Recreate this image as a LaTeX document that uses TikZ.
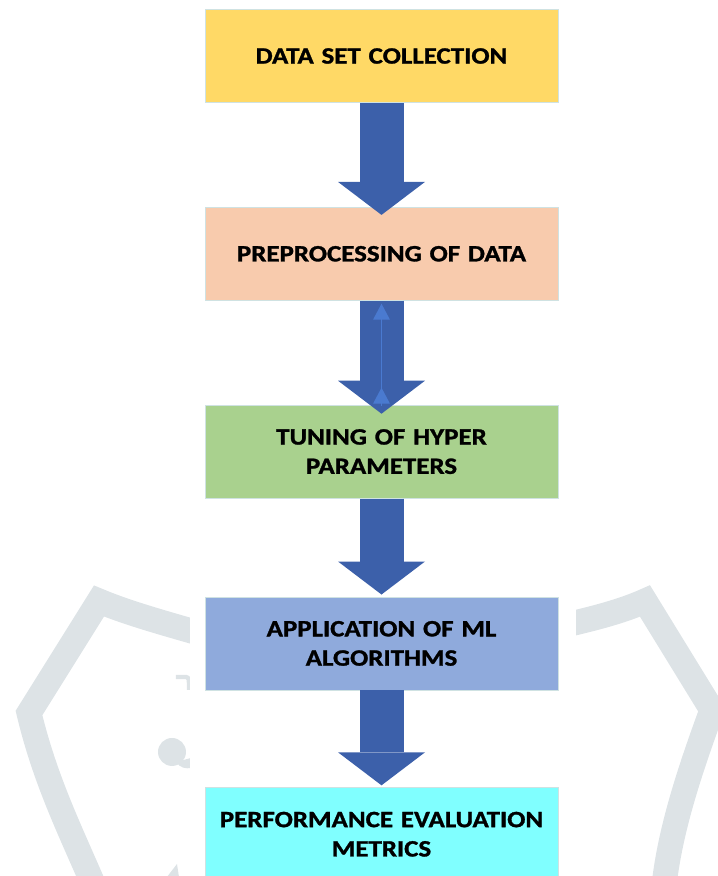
\documentclass[tikz,border=0pt]{standalone}
\usepackage{fontspec}
\setmainfont{Carlito}[FakeStretch=1.15,WordSpace=0.85,BoldFeatures={FakeBold=1.2}]
\usetikzlibrary{arrows.meta,positioning}
\definecolor{setgold}{HTML}{FFD966}
\definecolor{prepeach}{HTML}{F8CBAD}
\definecolor{tunegreen}{HTML}{A9D18E}
\definecolor{algoblue}{HTML}{8FAADC}
\definecolor{evalcyan}{HTML}{80FFFF}
\definecolor{boxline}{HTML}{CFE2E2}
\definecolor{arrowblue}{HTML}{3C60AA}
\definecolor{thinblue}{HTML}{4A7AD0}
\definecolor{wmgray}{HTML}{DDE3E6}
\tikzset{main base/.style={draw=boxline,thin,text centered,font=\bfseries\fontsize{20}{25}\selectfont}, }
\tikzset{main node/.style={rectangle,main base,text width=10.2cm,minimum width=10.59cm,minimum height=2.8cm}, }
\tikzset{linea/.style={color=arrowblue,line width=1.32cm,-{Triangle[length=0.99cm,width=2.61cm,line width=0pt]}}}
\tikzset{linea2/.style={color=thinblue,line width=0.9pt,-{Triangle[length=0.48cm,width=0.5cm]}}}
\tikzset{wm/.style={draw=wmgray,line width=0.75cm,line join=miter}}

\begin{document}
\begin{tikzpicture}
  \useasboundingbox (0,0) rectangle (21.51,-26.28);
  % faint shield behind the chart
  \begin{scope}[x=0.03cm,y=-0.03cm]
    \draw[wm] (195,632) .. controls (160,622) and (125,612) .. (99,601) -- (29,713)
      .. controls (45,780) and (70,830) .. (94,886);
    \draw[wm] (570,624) .. controls (600,617) and (625,610) .. (645,601) -- (712,710)
      .. controls (690,770) and (670,830) .. (664,886);
    \draw[wmgray,line width=0.13cm] (176,677) -- (186,677) .. controls (189,678) .. (189,690);
    \fill[wmgray] (172,752) circle[radius=14];
    \fill[wmgray] (176,762) .. controls (180,768) and (186,769) .. (191,768) -- (191,758) -- cycle;
    \fill[wmgray] (167,877) -- (177,864) -- (179,877) -- cycle;
    \fill[white] (190,560) rectangle (576,880);
  \end{scope}
  %
  \node[main node,fill=setgold] (data) at (11.445,-1.68) {DATA SET COLLECTION};
  \node[main node,fill=prepeach] (prep) [below=3.12cm of data] {PREPROCESSING OF DATA};
  \node[main node,fill=tunegreen] (tune) [below=3.12cm of prep] {TUNING OF HYPER\\PARAMETERS};
  \node[main node,fill=algoblue] (algo) [below=2.94cm of tune] {APPLICATION OF ML\\ALGORITHMS};
  \node[main node,fill=evalcyan] (eval) [below=2.91cm of algo] {PERFORMANCE EVALUATION\\METRICS};

\foreach \x/\y/\s in {data/prep/-0.24cm,prep/tune/-0.27cm,tune/algo/0.06cm,algo/eval/0.06cm}
  \path[linea,shorten >=\s] (\x) edge node {} (\y);
%
  \draw[linea2] ([yshift=-0.03cm]tune.north) -- ([yshift=-0.09cm]prep.south);
  \draw[linea2] ([yshift=-0.03cm]tune.north) -- ([yshift=0.51cm]tune.north);
\end{tikzpicture}
\end{document}
